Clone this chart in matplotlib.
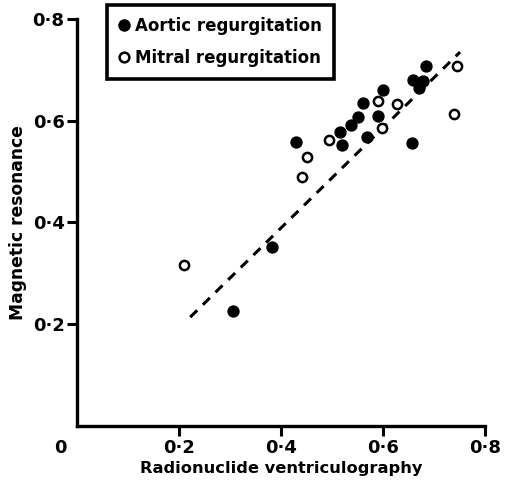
import matplotlib.pyplot as plt
from matplotlib.lines import Line2D

# ------------- data -------------
aortic_x = [0.684, 0.659, 0.678, 0.671, 0.657, 0.600, 0.561, 0.590,
            0.551, 0.537, 0.569, 0.516, 0.520, 0.429, 0.382, 0.306]
aortic_y = [0.707, 0.680, 0.678, 0.664, 0.556, 0.660, 0.635, 0.609,
            0.607, 0.591, 0.568, 0.578, 0.552, 0.558, 0.352, 0.226]

mitral_x = [0.745, 0.739, 0.627, 0.590, 0.598, 0.494, 0.451, 0.441, 0.210]
mitral_y = [0.707, 0.613, 0.633, 0.639, 0.585, 0.562, 0.528, 0.489, 0.316]

# regression line ends
fit_x = [0.222, 0.751]
fit_y = [0.214, 0.735]

ticks = [0.2, 0.4, 0.6, 0.8]
tick_labels = ['0·2', '0·4', '0·6', '0·8']
# -----------------------------------------------------

plt.rcParams['font.family'] = ['DejaVu Sans']
plt.rcParams['font.weight'] = 'bold'
plt.rcParams['axes.labelweight'] = 'bold'

fig = plt.figure(figsize=(5.11, 4.83), dpi=100)
ax = fig.add_axes([0.1507, 0.118, 0.7985, 0.8427])

ax.plot(fit_x, fit_y, color='black', lw=2.2, ls=(0, (3.2, 2.6)))
ax.scatter(aortic_x, aortic_y, s=62, color='black', zorder=3)
ax.scatter(mitral_x, mitral_y, s=44, facecolor='white', edgecolor='black',
           linewidths=1.8, zorder=3)

ax.set_xlim(0, 0.8)
ax.set_ylim(0, 0.8)
ax.set_xticks(ticks)
ax.set_xticklabels(tick_labels)
ax.set_yticks(ticks)
ax.set_yticklabels(tick_labels)

for side in ['top', 'right']:
    ax.spines[side].set_visible(False)
for side in ['left', 'bottom']:
    ax.spines[side].set_linewidth(2.4)
ax.tick_params(width=2.2, length=7, labelsize=13, pad=2)

ax.text(-0.033, -0.043, '0', fontsize=13, ha='center', va='center',
        fontweight='bold', clip_on=False)

ax.set_xlabel('Radionuclide ventriculography', fontsize=11.7, labelpad=3)
ax.set_ylabel('Magnetic resonance', fontsize=12.3, labelpad=4)

handles = [Line2D([], [], marker='o', ls='none', color='black', markersize=8),
           Line2D([], [], marker='o', ls='none', markerfacecolor='white',
                  markeredgecolor='black', markeredgewidth=1.8, markersize=7)]
leg = ax.legend(handles, ['Aortic regurgitation', 'Mitral regurgitation'],
                loc='upper left', bbox_to_anchor=(0.0735, 1.034), fontsize=12,
                frameon=True, fancybox=False, framealpha=1, borderaxespad=0,
                handlelength=0.6, handletextpad=0.4, borderpad=0.7,
                labelspacing=0.85)
leg.get_frame().set_edgecolor('black')
leg.get_frame().set_linewidth(2.6)

plt.savefig('out.png', dpi=100)
